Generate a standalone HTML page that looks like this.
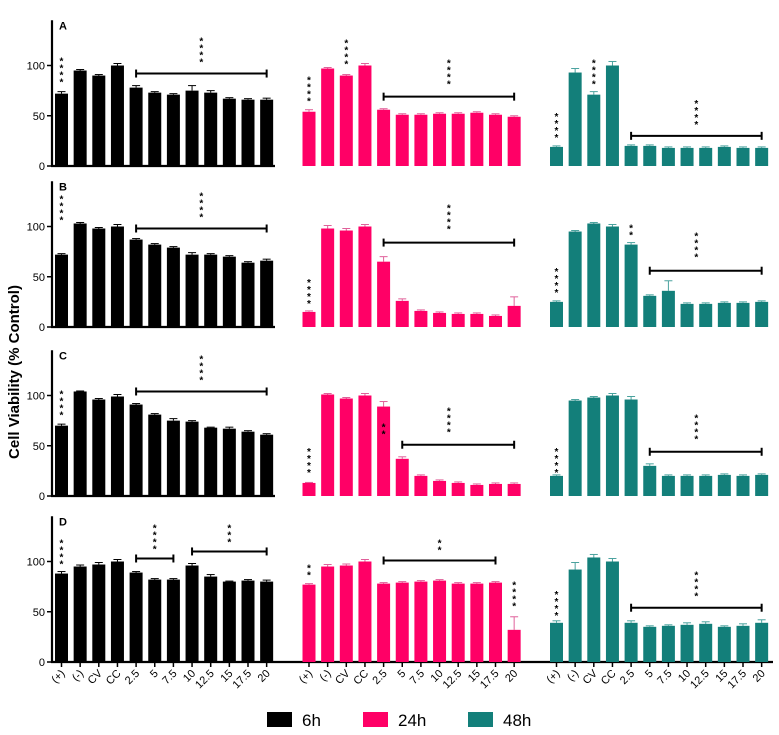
<!DOCTYPE html>
<html><head><meta charset="utf-8"><style>
html,body{margin:0;padding:0;background:#fff;}
svg{display:block;font-family:"Liberation Sans",Arial,sans-serif;}
</style></head><body>
<svg id="chart" width="779" height="735" viewBox="0 0 779 735" xmlns="http://www.w3.org/2000/svg">
<text x="0" y="0" transform="translate(19,372) rotate(-90)" text-anchor="middle" font-size="15" font-weight="bold">Cell Viability (% Control)</text>
</svg>
<script>
const categories = ["(+)","(-)","CV","CC","2.5","5","7.5","10","12.5","15","17.5","20"];
const yTicks = [0,50,100];
const panelLetters = ["A","B","C","D"];
const seriesNames = ["6h","24h","48h"];
const seriesColors = ["#000000","#ff0066","#137f7a"];
const rowA6 = [72,95,90,100,78,73,71,75,73,67,66,66];
const rowA24 = [54,97,90,100,56,51,51,52,52,53,51,49];
const rowA48 = [19,93,71,100,20,20,18,18,18,19,18,18];
const rowB6 = [72,103,98,100,87,82,79,72,72,70,64,66];
const rowB24 = [15,98,96,100,65,26,16,14,13,13,11,21];
const rowB48 = [25,95,103,100,82,31,36,23,23,24,24,25];
const rowC6 = [70,104,96,99,91,81,75,74,68,67,64,61];
const rowC24 = [13,101,97,100,89,37,20,15,13,11,12,12];
const rowC48 = [20,95,98,100,96,30,20,20,20,21,20,21];
const rowD6 = [88,95,97,100,89,82,82,96,85,80,81,80];
const rowD24 = [77,95,96,100,78,79,80,81,78,78,79,32];
const rowD48 = [39,92,104,100,39,35,36,37,38,35,36,39];
const errA6 = [2,1,1,2,2,1,1,5,2,1,1,1.5];
const errA24 = [2,1,1,2,1,1,1,1,1,1,1,1];
const errA48 = [1,4,3,4,1,1,1,1,1,1,1,1];
const errB6 = [1,1,1,2,1,1,1,2,1,1,1,1.5];
const errB24 = [1,3,2,2,5,2,1,1,1,1,1,9];
const errB48 = [1,1,1,2,2,1,10,1,1,1,1,1];
const errC6 = [1.5,0.5,1,2,1,1,2,1,0.5,1.5,1,1];
const errC24 = [0.5,1,1,2,5,2,1,1,1,1,1,1];
const errC48 = [1,1,1,2,3,2,1,1,1,1,1,1];
const errD6 = [2,1.5,2,2,1,1,1,2,2,0.5,1,1.5];
const errD24 = [1,2,1.5,2,1,1,1,1,1,1,1,13];
const errD48 = [2,7,3,3,2,1,1,2,2,1,2,3];
const values = [[rowA6,rowA24,rowA48],[rowB6,rowB24,rowB48],[rowC6,rowC24,rowC48],[rowD6,rowD24,rowD48]];
const errors = [[errA6,errA24,errA48],[errB6,errB24,errB48],[errC6,errC24,errC48],[errD6,errD24,errD48]];
const starMarks = [
 [0,0,0,86,4],[0,0,7.5,106,4],[0,1,0,67,4],[0,1,2,104,4],[0,1,7.5,84,4],[0,2,0,31,4],[0,2,2,84,4],[0,2,7.5,44,4],
 [1,0,0,109,4],[1,0,7.5,112,4],[1,1,0,26,4],[1,1,7.5,100,4],[1,2,0,37,4],[1,2,4,94,2],[1,2,7.5,72,4],
 [2,0,0,83,4],[2,0,7.5,118,4],[2,1,0,26,4],[2,1,4,64,2],[2,1,7.5,66,4],[2,2,0,26,4],[2,2,7.5,59,4],
 [3,0,0,100,4],[3,0,5,115,4],[3,0,9,122,3],[3,1,0,89,2],[3,1,7,114,2],[3,1,11,58,4],[3,2,0,49,4],[3,2,7.5,68,4]
];
const brackets = [
 [0,0,4,11,92],[0,1,4,11,69],[0,2,4,11,30],
 [1,0,4,11,98],[1,1,4,11,84],[1,2,5,11,56],
 [2,0,4,11,104],[2,1,5,11,51],[2,2,5,11,44],
 [3,0,4,6,103],[3,0,7,11,110],[3,1,4,10,101],[3,2,4,11,54]
];
const baselines = [166,327,496,662];
const svg = document.getElementById('chart');
const NS = "http://www.w3.org/2000/svg";
function mk(tag, attrs, parent){const e=document.createElementNS(NS,tag);for(const k in attrs)e.setAttribute(k,attrs[k]);(parent||svg).appendChild(e);return e;}
const barW = 13, step = 18.65, panelStep = 247.5, firstLeft = 55, axisX = 52;
function xCenter(s,i){return firstLeft + barW/2 + i*step + s*panelStep;}
function yPos(r,v){return baselines[r] - v*1.005;}

for(let r=0;r<4;r++){
  const g = mk('g',{});
  
  
  const ax = mk('line',{x1:axisX,y1:yPos(r,145),x2:axisX,y2:baselines[r]+1,stroke:'#000','stroke-width':2.2},g);
  
  
  const xEnd = r===3 ? 773 : 275;
  const bl = mk('line',{x1:axisX-1,y1:baselines[r],x2:xEnd,y2:baselines[r],stroke:'#000','stroke-width':2.2},g);
  
  
  yTicks.forEach(t=>{
    const y=yPos(r,t);
    mk('line',{x1:axisX-5,y1:y,x2:axisX,y2:y,stroke:'#000','stroke-width':1.5},g);
    const tl = mk('text',{x:axisX-7,y:y+4,'text-anchor':'end','font-size':11},g);
    tl.textContent=t;
    
    
  });
  const pl = mk('text',{x:59,y:yPos(r,145)+9,'font-size':11,'font-weight':'bold'},g);
  pl.textContent=panelLetters[r];
  
  
  for(let s=0;s<3;s++){
    const vals=values[r][s], errs=errors[r][s];
    vals.forEach((v,i)=>{
      const cx=xCenter(s,i), y=yPos(r,v), ye=yPos(r,v+errs[i]);
      const col=seriesColors[s];
      const lineCol = s===0?'#000':(s===1?'#e0609a':'#4aa29e');
      mk('line',{x1:cx,y1:y,x2:cx,y2:ye,stroke:lineCol,'stroke-width':1},g);
      mk('line',{x1:cx-4,y1:ye,x2:cx+4,y2:ye,stroke:lineCol,'stroke-width':1},g);
      const b = mk('rect',{x:cx-barW/2,y:y,width:barW,height:baselines[r]-y,fill:col},g);
      
      
    });
  }
}
starMarks.forEach(m=>{
  const [r,s,i,v,n]=m;
  const cx=xCenter(s,i);
  const yb=yPos(r,v);
  for(let k=0;k<n;k++){
    const t=mk('text',{x:cx,y:yb-k*7+6,'text-anchor':'middle','font-size':10,'font-weight':'bold'});
    t.textContent='*';
    
    
  }
});
brackets.forEach(b=>{
  const [r,s,a,c,v]=b;
  const x1=xCenter(s,a), x2=xCenter(s,c), y=yPos(r,v);
  const g=mk('g',{stroke:'#000','stroke-width':2});
  
  
  mk('line',{x1:x1,y1:y,x2:x2,y2:y},g);
  mk('line',{x1:x1,y1:y-4,x2:x1,y2:y+4},g);
  mk('line',{x1:x2,y1:y-4,x2:x2,y2:y+4},g);
});
for(let s=0;s<3;s++){
  categories.forEach((c,i)=>{
    const cx=xCenter(s,i), y=baselines[3];
    mk('line',{x1:cx,y1:y,x2:cx,y2:y+5,stroke:'#000','stroke-width':1.5});
    const t=mk('text',{x:0,y:0,'text-anchor':'end','font-size':11,transform:'translate('+(cx+4)+','+(y+12)+') rotate(-45)'});
    t.textContent=c;
    
    
  });
}
const legX=[267,363,468];
seriesNames.forEach((n,s)=>{
  const g=mk('g',{});
  
  
  mk('rect',{x:legX[s],y:712,width:25,height:15,fill:seriesColors[s]},g);
  const t=mk('text',{x:legX[s]+35,y:726,'font-size':17},g);
  t.textContent=n;
});
</script>
</body></html>
